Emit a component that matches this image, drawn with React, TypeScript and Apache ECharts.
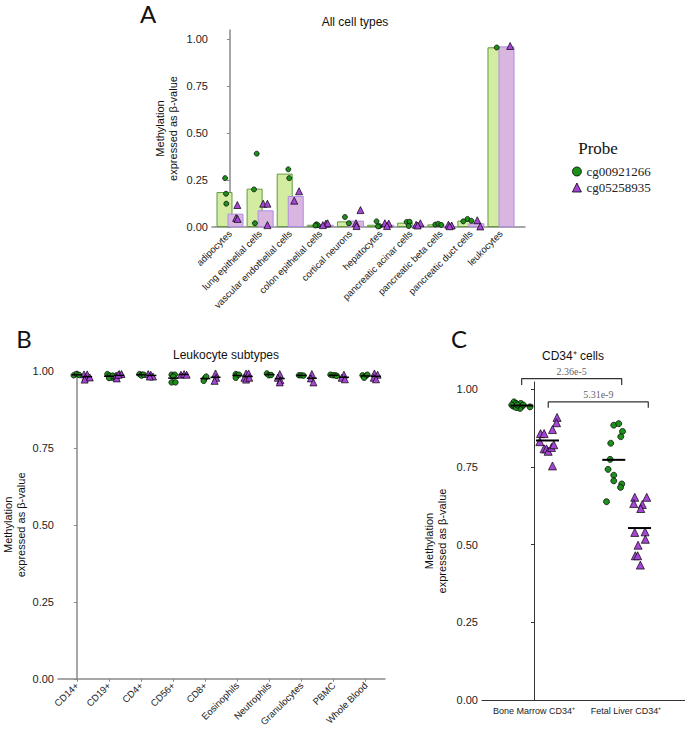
import React, { useEffect, useRef } from 'react';
import * as echarts from 'echarts';

// ---------- Panel A: all cell types ----------
const cellTypes = [
  'adipocytes', 'lung epithelial cells', 'vascular endothelial cells', 'colon epithelial cells',
  'cortical neurons', 'hepatocytes', 'pancreatic acinar cells', 'pancreatic beta cells',
  'pancreatic duct cells', 'leukocytes',
];
const barGreenA = [0.186, 0.204, 0.284, 0.012, 0.030, 0.012, 0.023, 0.014, 0.034, 0.956];
const barPurpleA = [0.071, 0.089, 0.165, 0.012, 0.034, 0.012, 0.012, 0.007, 0.020, 0.961];
// per cell type: [jitter, beta-value]
const ptsGreenA = [
  [[0.02, 0.26], [0.05, 0.177], [0.06, 0.124]],
  [[0.07, 0.39], [-0.02, 0.20], [0.01, 0.02]],
  [[0.12, 0.307], [0.15, 0.26]],
  [[0.05, 0.014], [0.1, 0.01], [0.02, 0.008]],
  [[0.0, 0.053], [0.13, 0.02]],
  [[0.05, 0.03], [0.15, 0.005], [0.1, 0.003]],
  [[0.05, 0.027], [0.15, 0.028], [0.12, 0.005]],
  [[0.0, 0.013], [0.1, 0.017], [0.2, 0.011]],
  [[0.07, 0.043], [-0.07, 0.03], [0.2, 0.033]],
  [[0.04, 0.955]],
];
const ptsPurpleA = [
  [[0.06, 0.117], [0.02, 0.048], [0.07, 0.043]],
  [[-0.08, 0.124], [0.06, 0.124], [0.06, 0.01]],
  [[0.11, 0.19], [-0.05, 0.14]],
  [[0.0, 0.018], [0.06, 0.02], [-0.1, 0.01]],
  [[0.15, 0.09], [0.0, 0.02], [0.02, 0.005]],
  [[-0.04, 0.02], [0.09, 0.018], [0.03, 0.005]],
  [[0.14, 0.02], [0.0, 0.012], [0.05, 0.008]],
  [[0.07, 0.012], [0.18, 0.008], [0.11, 0.004]],
  [[0.03, 0.036], [0.13, 0.003]],
  [[0.12, 0.963]],
];

// ---------- Panel B: leukocyte subtypes ----------
const leukoTypes = ['CD14+', 'CD19+', 'CD4+', 'CD56+', 'CD8+', 'Eosinophils', 'Neutrophils', 'Granulocytes', 'PBMC', 'Whole Blood'];
const ptsGreenB = [
  [[-0.1, 0.986], [0.0, 0.99], [0.07, 0.987]],
  [[-0.05, 0.99], [0.02, 0.985], [0.1, 0.978], [0.0, 0.977], [0.12, 0.985]],
  [[-0.05, 0.99], [0.03, 0.988], [0.01, 0.985], [0.08, 0.988]],
  [[-0.05, 0.988], [0.05, 0.988], [0.0, 0.982], [-0.05, 0.963], [0.07, 0.963]],
  [[-0.02, 0.976], [0.03, 0.982], [-0.05, 0.968]],
  [[-0.05, 0.99], [-0.02, 0.985], [-0.05, 0.978], [0.05, 0.988]],
  [[-0.08, 0.992], [-0.02, 0.986], [0.05, 0.987]],
  [[-0.08, 0.986], [-0.01, 0.986], [0.06, 0.985]],
  [[-0.1, 0.988], [-0.02, 0.986], [0.05, 0.986], [0.1, 0.984]],
  [[-0.1, 0.986], [0.0, 0.984], [-0.05, 0.978], [0.05, 0.988]],
];
const ptsPurpleB = [
  [[-0.1, 0.989], [0.0, 0.989], [-0.05, 0.979], [0.08, 0.979], [-0.08, 0.972]],
  [[-0.1, 0.985], [0.0, 0.99], [0.07, 0.99], [-0.08, 0.976], [-0.03, 0.988]],
  [[-0.1, 0.99], [-0.02, 0.988], [0.05, 0.982], [-0.05, 0.982]],
  [[-0.08, 0.988], [0.02, 0.99], [0.1, 0.988]],
  [[0.0, 0.992], [0.02, 0.978], [-0.03, 0.968]],
  [[-0.05, 0.992], [0.03, 0.992], [-0.1, 0.978], [-0.05, 0.972], [0.05, 0.978]],
  [[0.0, 0.99], [-0.06, 0.978], [0.02, 0.97], [0.0, 0.963]],
  [[0.0, 0.99], [-0.03, 0.976], [0.05, 0.963]],
  [[0.0, 0.988], [-0.07, 0.978], [0.03, 0.973]],
  [[-0.05, 0.992], [0.05, 0.988], [-0.07, 0.978], [0.0, 0.973]],
];

// ---------- Panel C: CD34+ cells ----------
const cd34Types = ['Bone Marrow CD34⁺', 'Fetal Liver CD34⁺'];
const ptsGreenC = [
  [[-0.084, 0.959], [-0.062, 0.954], [-0.091, 0.945], [-0.037, 0.941], [-0.011, 0.954], [0.003, 0.945],
   [-0.018, 0.938], [0.017, 0.949], [-0.062, 0.941], [0.09, 0.943], [-0.109, 0.949], [-0.048, 0.949]],
  [[0.0, 0.884], [0.054, 0.889], [0.095, 0.864], [0.076, 0.847], [-0.033, 0.826], [-0.04, 0.774],
   [-0.062, 0.742], [0.0, 0.723], [0.0, 0.705], [0.087, 0.695], [0.073, 0.684], [-0.079, 0.638]],
];
const ptsPurpleC = [
  [[0.104, 0.909], [0.098, 0.892], [0.054, 0.87], [-0.076, 0.857], [-0.037, 0.857], [-0.084, 0.831],
   [-0.037, 0.808], [-0.011, 0.808], [0.007, 0.8], [0.043, 0.8125], [0.068, 0.821], [0.054, 0.753]],
  [[-0.052, 0.652], [0.078, 0.652], [-0.063, 0.632], [0.03, 0.629], [0.013, 0.616], [-0.052, 0.539],
   [0.06, 0.541], [0.063, 0.517], [-0.016, 0.498], [-0.046, 0.464], [-0.02, 0.464], [0.009, 0.434]],
];
const pValues = ['2.36e-5', '5.31e-9'];
// bracket ends [x0, x1] in category units, level and foot
const bracketX = [[-0.134, 0.953], [0.155, 1.242]];
const bracketY = [[1.034, 1.013], [0.959, 0.94]];

const yTicks = [0, 0.25, 0.5, 0.75, 1.0];

const GREEN = '#1f8f1c';
const PURPLE = '#a645d6';
const SANS = 'Liberation Sans';
const SERIF = 'Liberation Serif';

const mean = (a: number[][]) => a.reduce((s, p) => s + p[1], 0) / a.length;

function place(groups: number[][][], offset: number) {
  const out: number[][] = [];
  groups.forEach((g, i) => g.forEach(([j, v]) => out.push([i + offset + j, v])));
  return out;
}

function yAxisCfg(grid: number, max: number, color: string, gap: number, lw: number) {
  return {
    type: 'value', gridIndex: grid, min: 0, max,
    name: 'Methylation\nexpressed as β-value', nameLocation: 'middle', nameGap: gap, nameRotate: 90,
    nameTextStyle: { fontSize: 11, lineHeight: 13, color: '#111', fontFamily: SANS, align: 'center' },
    axisLine: { show: true, lineStyle: { color, width: lw } },
    axisTick: { show: true, length: 3, customValues: yTicks, lineStyle: { color, width: 1 } },
    axisLabel: { customValues: yTicks, formatter: (v: number) => v.toFixed(2), fontSize: 11, color: '#222', fontFamily: SANS, margin: 4 },
    splitLine: { show: false },
  };
}

function xAxisCfg(grid: number, min: number, max: number, cats: string[], color: string, rotate: number, ticks: boolean, fs: number, lw: number) {
  const idx = cats.map((_, i) => i);
  return {
    type: 'value', gridIndex: grid, min, max,
    axisLine: { show: true, onZero: false, lineStyle: { color, width: lw } },
    axisTick: { show: ticks, length: 3, customValues: idx, lineStyle: { color, width: 1 } },
    axisLabel: {
      customValues: idx, formatter: (v: number) => cats[Math.round(v)] ?? '',
      rotate, fontSize: fs, color: '#222', fontFamily: SANS, margin: rotate ? 5 : 6,
    },
    splitLine: { show: false },
  };
}

const dotStyle = (c: string) => ({ color: c, borderColor: '#000', borderWidth: 0.7, opacity: 1 });

function buildOption() {
  const series: any[] = [];
  // Panel A bars
  series.push({
    type: 'bar', name: 'barG', xAxisIndex: 0, yAxisIndex: 0, barWidth: 16, barGap: '-31%',
    data: barGreenA.map((v, i) => [i, v]),
    itemStyle: { color: '#d4eba2', borderColor: '#5f9d3e', borderWidth: 1 },
  });
  series.push({
    type: 'bar', name: 'barP', xAxisIndex: 0, yAxisIndex: 0, barWidth: 16, barGap: '-31%',
    data: barPurpleA.map((v, i) => [i, v]),
    itemStyle: { color: '#d8b6e0', borderColor: '#b38ce8', borderWidth: 1 },
  });
  series.push({
    type: 'scatter', name: 'cg00921266', xAxisIndex: 0, yAxisIndex: 0, symbol: 'circle', symbolSize: 5,
    data: place(ptsGreenA, -0.183), itemStyle: dotStyle(GREEN), z: 5,
  });
  series.push({
    type: 'scatter', name: 'cg05258935', xAxisIndex: 0, yAxisIndex: 0, symbol: 'triangle', symbolSize: 7,
    data: place(ptsPurpleA, 0.183), itemStyle: dotStyle(PURPLE), z: 5,
  });
  // Panel B
  series.push({
    type: 'scatter', name: 'cg00921266', xAxisIndex: 1, yAxisIndex: 1, symbol: 'circle', symbolSize: 5.5,
    data: place(ptsGreenB, 0), itemStyle: dotStyle(GREEN), z: 5,
  });
  series.push({
    type: 'scatter', name: 'cg05258935', xAxisIndex: 1, yAxisIndex: 1, symbol: 'triangle', symbolSize: 7,
    data: place(ptsPurpleB, 0.32), itemStyle: dotStyle(PURPLE), z: 5,
  });
  series.push({
    type: 'scatter', name: 'meanB', xAxisIndex: 1, yAxisIndex: 1, symbol: 'rect', symbolSize: [10, 1.5],
    data: [
      ...ptsGreenB.map((g, i) => [i, mean(g)]),
      ...ptsPurpleB.map((g, i) => [i + 0.32, mean(g)]),
    ],
    itemStyle: { color: '#000', opacity: 1 }, z: 6,
  });
  // Panel C
  series.push({
    type: 'scatter', name: 'cg00921266', xAxisIndex: 2, yAxisIndex: 2, symbol: 'circle', symbolSize: 6,
    data: place(ptsGreenC, -0.133), itemStyle: dotStyle(GREEN), z: 5,
  });
  series.push({
    type: 'scatter', name: 'cg05258935', xAxisIndex: 2, yAxisIndex: 2, symbol: 'triangle', symbolSize: 8,
    data: place(ptsPurpleC, 0.147), itemStyle: dotStyle(PURPLE), z: 5,
  });
  series.push({
    type: 'scatter', name: 'meanC', xAxisIndex: 2, yAxisIndex: 2, symbol: 'rect', symbolSize: [23, 2],
    data: [
      ...ptsGreenC.map((g, i) => [i - 0.133, mean(g)]),
      ...ptsPurpleC.map((g, i) => [i + 0.147, mean(g)]),
    ],
    itemStyle: { color: '#000', opacity: 1 }, z: 6,
  });
  bracketX.forEach(([x0, x1], k) => {
    const [yl, yf] = bracketY[k];
    series.push({
      type: 'line', name: 'bracket' + k, xAxisIndex: 2, yAxisIndex: 2, clip: false, symbol: 'none',
      data: [[x0, yf], [x0, yl], [x1, yl], [x1, yf]],
      lineStyle: { color: '#333', width: 1.2 }, z: 4,
    });
    series.push({
      type: 'scatter', name: 'p' + k, xAxisIndex: 2, yAxisIndex: 2, clip: false, symbolSize: 0,
      data: [{ value: [(x0 + x1) / 2, yl], name: pValues[k] }],
      label: { show: true, position: 'top', distance: 2, formatter: '{b}', fontFamily: SERIF, fontSize: 10, color: '#333' },
      z: 4,
    });
  });

  const gText = (text: string, x: number, y: number, size: number, family = SANS, color = '#111') => ({
    type: 'text', x, y,
    style: { text, fontSize: size, fontFamily: family, fill: color, textAlign: 'center', textVerticalAlign: 'middle' },
  });

  return {
    animation: false,
    backgroundColor: '#fff',
    grid: [
      { left: 212, top: 30, width: 313, height: 197 },
      { left: 57, top: 371, width: 328, height: 310 },
      { left: 482, top: 382, width: 203, height: 318 },
    ],
    xAxis: [
      xAxisCfg(0, -0.598, 9.797, cellTypes, '#8a8a8a', 45, false, 9.5, 1.5),
      xAxisCfg(1, -0.59, 9.6, leukoTypes, '#8a8a8a', 45, true, 9.5, 1.5),
      xAxisCfg(2, -0.565, 1.641, cd34Types, '#333', 0, false, 9, 1),
    ],
    yAxis: [
      yAxisCfg(0, 1.048, '#8a8a8a', 33, 1.5),
      yAxisCfg(1, 1.0, '#8a8a8a', 31, 1.5),
      yAxisCfg(2, 1.023, '#333', 34, 1),
    ],
    legend: {
      orient: 'vertical', left: 567, top: 160, itemWidth: 9, itemHeight: 9, itemGap: 3,
      selectedMode: false,
      textStyle: { fontFamily: SERIF, fontSize: 13, color: '#222' },
      data: [
        { name: 'cg00921266', icon: 'circle', itemStyle: { color: GREEN, borderColor: '#000', borderWidth: 0.8, opacity: 1 } },
        { name: 'cg05258935', icon: 'triangle', itemStyle: { color: PURPLE, borderColor: '#000', borderWidth: 0.8, opacity: 1 } },
      ],
    },
    graphic: [
      gText('A', 148, 13, 24, 'Lato'),
      gText('B', 24, 338, 24, 'Lato'),
      gText('C', 459, 338, 24, 'Lato'),
      gText('All cell types', 355, 22, 12),
      gText('Leukocyte subtypes', 226, 355, 12),
      gText('CD34⁺ cells', 573, 356, 12),
      gText('Probe', 598, 148, 17, SERIF),
    ],
    series,
  };
}

export default function App() {
  const ref = useRef<HTMLDivElement>(null);
  useEffect(() => {
    const chart = echarts.init(ref.current!, null, { renderer: 'svg' });
    chart.setOption(buildOption() as any);
    return () => chart.dispose();
  }, []);
  return (
    <div
      ref={ref}
      style={{ position: 'absolute', left: 0, top: 0, width: 685, height: 729, background: '#fff' }}
    />
  );
}
